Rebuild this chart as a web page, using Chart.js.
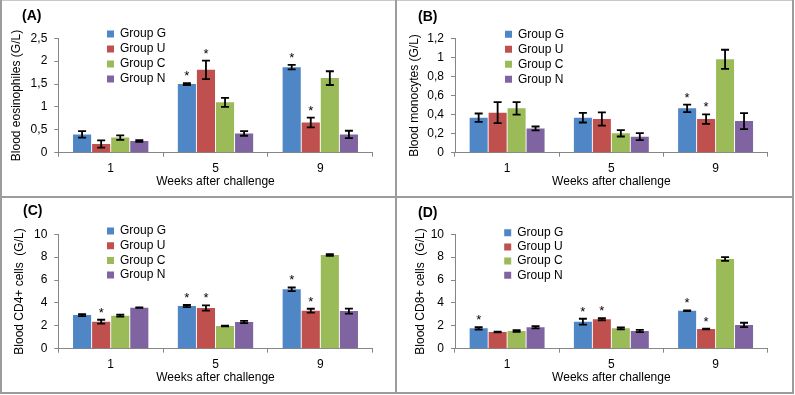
<!DOCTYPE html>
<html>
<head>
<meta charset="utf-8">
<script src="https://cdn.jsdelivr.net/npm/chart.js@4.4.0/dist/chart.umd.min.js"></script>
<style>
  html, body { margin: 0; padding: 0; background: #fff; }
  #frame { position: relative; width: 795px; height: 395px; overflow: hidden; }
  #frame canvas { position: absolute; }
  .line { position: absolute; background: #9c9c9c; }
  .tag { position: absolute; font: bold 14px "Liberation Sans", Arial, sans-serif; line-height: 14px; color: #000; }
</style>
</head>
<body>
<div id="frame">
  <canvas id="chartA" width="393" height="195" style="left:2px;top:1px"></canvas>
  <canvas id="chartB" width="395" height="195" style="left:397px;top:1px"></canvas>
  <canvas id="chartC" width="393" height="195" style="left:2px;top:198px"></canvas>
  <canvas id="chartD" width="395" height="195" style="left:397px;top:198px"></canvas>

  <div class="tag" style="left:22px;top:8px">(A)</div>
  <div class="tag" style="left:418px;top:9px">(B)</div>
  <div class="tag" style="left:23px;top:203px">(C)</div>
  <div class="tag" style="left:418px;top:205px">(D)</div>

  <!-- panel frame -->
  <div class="line" style="left:0;top:0;width:794px;height:1px;background:#c8c8c8"></div>
  <div class="line" style="left:0;top:0;width:2px;height:394px"></div>
  <div class="line" style="left:792px;top:0;width:2px;height:394px"></div>
  <div class="line" style="left:0;top:392px;width:794px;height:2px"></div>
  <div class="line" style="left:395px;top:0;width:2px;height:394px"></div>
  <div class="line" style="left:0;top:196px;width:794px;height:2px"></div>
</div>

<script>
var weeks = ['1', '5', '9'];
var groups = ['Group G', 'Group U', 'Group C', 'Group N'];
var groupColors = ['#4F86C6', '#C0504D', '#9BBB59', '#8064A2'];

// (A) blood eosinophiles, one row per group (G, U, C, N)
var eosMean = [[0.40, 1.50, 1.87], [0.19, 1.81, 0.66], [0.33, 1.10, 1.63], [0.255, 0.42, 0.40]];
var eosErr = [[0.07, 0.02, 0.05], [0.08, 0.20, 0.105], [0.05, 0.10, 0.15], [0.02, 0.05, 0.08]];
var eosStar = [[0, 1, 1], [0, 1, 1], [0, 0, 0], [0, 0, 0]];
var eosTicks = ['0', '0,5', '1', '1,5', '2', '2,5'];

// (B) blood monocytes
var monoMean = [[0.367, 0.367, 0.465], [0.42, 0.353, 0.353], [0.465, 0.203, 0.98], [0.255, 0.168, 0.332]];
var monoErr = [[0.044, 0.05, 0.04], [0.11, 0.07, 0.05], [0.066, 0.033, 0.10], [0.02, 0.037, 0.084]];
var monoStar = [[0, 0, 1], [0, 0, 1], [0, 0, 0], [0, 0, 0]];
var monoTicks = ['0', '0,2', '0,4', '0,6', '0,8', '1', '1,2'];

// (C) blood CD4+ cells
var cd4Mean = [[2.94, 3.73, 5.19], [2.36, 3.56, 3.32], [2.89, 1.98, 8.19], [3.59, 2.33, 3.29]];
var cd4Err = [[0.09, 0.09, 0.16], [0.17, 0.23, 0.17], [0.09, 0.03, 0.07], [0.03, 0.10, 0.22]];
var cd4Star = [[0, 1, 1], [1, 1, 1], [0, 0, 0], [0, 0, 0]];

// (D) blood CD8+ cells
var cd8Mean = [[1.78, 2.36, 3.32], [1.46, 2.57, 1.72], [1.55, 1.78, 7.84], [1.87, 1.55, 2.08]];
var cd8Err = [[0.10, 0.26, 0.03], [0.04, 0.09, 0.03], [0.07, 0.09, 0.17], [0.10, 0.10, 0.19]];
var cd8Star = [[1, 1, 1], [0, 1, 1], [0, 0, 0], [0, 0, 0]];

var cellTicks = ['0', '2', '4', '6', '8', '10'];

Chart.defaults.font.family = '"Liberation Sans", Arial, sans-serif';
Chart.defaults.font.size = 12;
Chart.defaults.color = '#000';

var AXIS_COLOR = '#868686';

/**
 * Draws the error bars and the significance stars on top of the bars
 */
var errorBars = {
    id: 'errorBars',
    afterDatasetsDraw: function(chart) {
        var ctx = chart.ctx;
        var yScale = chart.scales.y;
        ctx.save();
        ctx.strokeStyle = '#000';
        ctx.fillStyle = '#000';
        ctx.lineWidth = 1.8;
        ctx.font = '13px "Liberation Sans", Arial, sans-serif';
        ctx.textAlign = 'center';
        ctx.textBaseline = 'alphabetic';
        chart.data.datasets.forEach(function(ds, d) {
            var meta = chart.getDatasetMeta(d);
            meta.data.forEach(function(bar, i) {
                var top = yScale.getPixelForValue(ds.data[i] + ds.errors[i]);
                var bottom = yScale.getPixelForValue(ds.data[i] - ds.errors[i]);
                var x = bar.x;
                ctx.beginPath();
                ctx.moveTo(x, top);
                ctx.lineTo(x, bottom);
                ctx.moveTo(x - 4, top);
                ctx.lineTo(x + 4, top);
                ctx.moveTo(x - 4, bottom);
                ctx.lineTo(x + 4, bottom);
                ctx.stroke();
                if (ds.stars[i]) {
                    ctx.fillText('*', x, top - 3);
                }
            });
        });
        ctx.restore();
    }
};

/**
 * Moves the legend to its spot inside the plot
 */
var legendSpot = {
    id: 'legendSpot',
    afterLayout: function(chart, args, opts) {
        chart.legend.left = opts.x;
        chart.legend.top = opts.y;
    }
};

/**
 * Build one panel chart
 * @param {Object} p panel settings
 * @returns {Object} chart object
 */
function makePanel(p) {
    var datasets = groups.map(function(name, g) {
        return {
            label: name,
            data: p.mean[g],
            errors: p.err[g],
            stars: p.star[g],
            backgroundColor: groupColors[g],
            borderWidth: 0,
            barPercentage: 0.95,
            categoryPercentage: 0.728
        };
    });

    return new Chart(document.getElementById(p.id), {
        type: 'bar',
        data: { labels: weeks, datasets: datasets },
        plugins: [errorBars, legendSpot],
        options: {
            responsive: false,
            animation: false,
            devicePixelRatio: 1,
            layout: { padding: { left: 0, top: p.top, right: p.right, bottom: p.bottom } },
            plugins: {
                tooltip: { enabled: false },
                legend: {
                    position: 'chartArea',
                    align: 'start',
                    labels: { boxWidth: 7, boxHeight: 7, padding: p.legendGap, color: '#000', font: { size: 12 } }
                },
                legendSpot: { x: p.legendX, y: p.legendY }
            },
            scales: {
                x: {
                    grid: { offset: true, drawOnChartArea: false, tickLength: 4, color: AXIS_COLOR },
                    border: { color: AXIS_COLOR },
                    ticks: { padding: 5, font: { size: 12 } },
                    title: { display: true, text: 'Weeks after challenge', padding: { top: 0, bottom: 0 }, font: { size: 12, lineHeight: 1 } },
                    afterFit: function(s) { s.height = 34.5; }
                },
                y: {
                    min: 0,
                    max: p.max,
                    grid: { drawOnChartArea: false, tickLength: 4, color: AXIS_COLOR },
                    border: { color: AXIS_COLOR },
                    ticks: {
                        stepSize: p.step,
                        padding: 7,
                        font: { size: 12 },
                        callback: function(v, i) { return p.ticks[i]; }
                    },
                    title: { display: true, text: p.yTitle, padding: { top: p.titlePad, bottom: 0 }, font: { size: 12 } },
                    afterFit: function(s) { s.width = p.left; }
                }
            }
        }
    });
}

makePanel({
    id: 'chartA', mean: eosMean, err: eosErr, star: eosStar, ticks: eosTicks, max: 2.5, step: 0.5,
    yTitle: 'Blood eosinophiles (G/L)', titlePad: 7.5,
    left: 56.3, top: 37.3, right: 22.3, bottom: 8.8, legendX: 102, legendY: 24, legendGap: 3
});
makePanel({
    id: 'chartB', mean: monoMean, err: monoErr, star: monoStar, ticks: monoTicks, max: 1.2, step: 0.2,
    yTitle: 'Blood monocytes (G/L)', titlePad: 10.8,
    left: 58, top: 37.3, right: 24.3, bottom: 8.8, legendX: 105, legendY: 24.3, legendGap: 3
});
makePanel({
    id: 'chartC', mean: cd4Mean, err: cd4Err, star: cd4Star, ticks: cellTicks, max: 10, step: 2,
    yTitle: 'Blood CD4+ cells  (G/L)', titlePad: 10.8,
    left: 56.3, top: 36.3, right: 22.3, bottom: 9.8, legendX: 102.3, legendY: 24.3, legendGap: 2.7
});
makePanel({
    id: 'chartD', mean: cd8Mean, err: cd8Err, star: cd8Star, ticks: cellTicks, max: 10, step: 2,
    yTitle: 'Blood CD8+ cells  (G/L)', titlePad: 16.8,
    left: 58, top: 36.3, right: 24.3, bottom: 9.8, legendX: 105, legendY: 26.5, legendGap: 2.2
});
</script>
</body>
</html>
